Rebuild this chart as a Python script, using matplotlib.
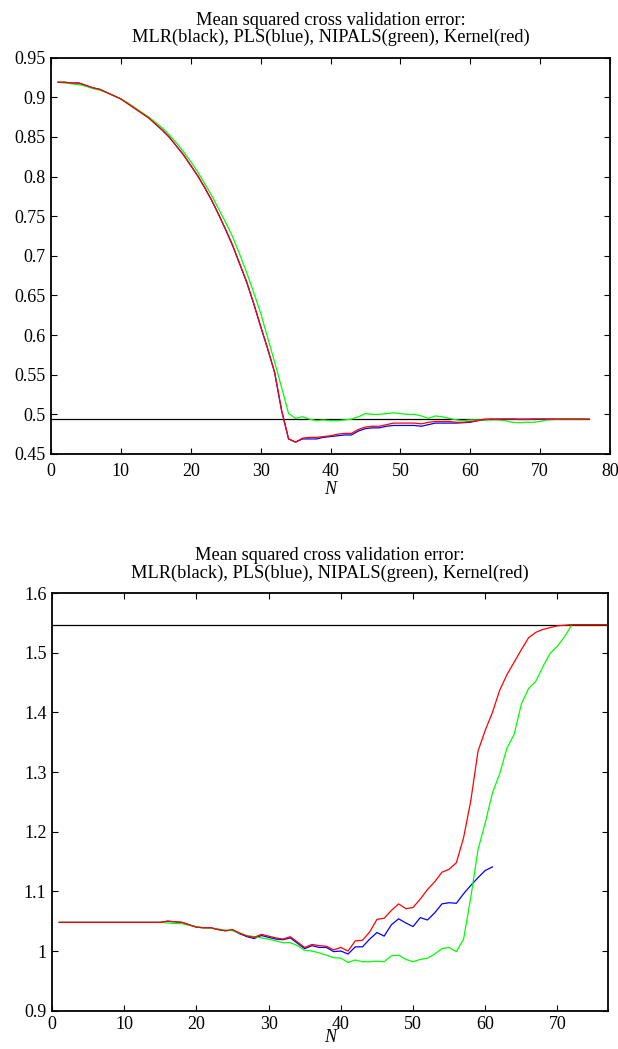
import numpy as np
import matplotlib
matplotlib.use("Agg")
import matplotlib.pyplot as plt
from matplotlib.ticker import FuncFormatter

plt.rcParams['font.family'] = ['Liberation Serif', 'DejaVu Serif']

# ---------------- data: first experiment ----------------
n_top = list(range(1, 78))
mlr_top = 0.494
kernel_top = [
    0.919, 0.919, 0.918, 0.918, 0.915, 0.912, 0.910, 0.906, 0.902, 0.898,
    0.892, 0.886, 0.880, 0.874, 0.866, 0.858, 0.849, 0.838, 0.827, 0.814,
    0.801, 0.786, 0.770, 0.752, 0.733, 0.713, 0.690, 0.667, 0.640, 0.611,
    0.583, 0.553, 0.505, 0.469, 0.465, 0.470, 0.471, 0.471, 0.472, 0.473,
    0.475, 0.476, 0.476, 0.481, 0.484, 0.485, 0.485, 0.487, 0.489, 0.489,
    0.489, 0.489, 0.488, 0.490, 0.491, 0.491, 0.491, 0.490, 0.490, 0.491,
    0.492, 0.494, 0.494, 0.494, 0.494, 0.494, 0.4935, 0.4935, 0.494, 0.494,
    0.494, 0.494, 0.494, 0.494, 0.494, 0.494, 0.494]
pls_top = [
    0.919, 0.919, 0.918, 0.918, 0.915, 0.912, 0.910, 0.906, 0.902, 0.898,
    0.892, 0.886, 0.880, 0.874, 0.866, 0.858, 0.849, 0.838, 0.827, 0.814,
    0.801, 0.786, 0.770, 0.752, 0.733, 0.713, 0.690, 0.667, 0.640, 0.611,
    0.583, 0.553, 0.505, 0.469, 0.465, 0.469, 0.469, 0.469, 0.471, 0.472,
    0.473, 0.474, 0.474, 0.479, 0.482, 0.483, 0.483, 0.485, 0.486, 0.486,
    0.486, 0.486, 0.485, 0.487, 0.489, 0.489, 0.489, 0.489, 0.4895, 0.490,
    0.492, 0.493, 0.494, 0.494, 0.494, 0.494, 0.494, 0.494, 0.494, 0.494,
    0.494, 0.494, 0.494, 0.494, 0.494, 0.494, 0.494]
nipals_top = [
    0.919, 0.918, 0.917, 0.916, 0.914, 0.911, 0.909, 0.906, 0.902, 0.898,
    0.893, 0.887, 0.881, 0.875, 0.868, 0.861, 0.852, 0.842, 0.831, 0.819,
    0.806, 0.791, 0.776, 0.759, 0.742, 0.724, 0.702, 0.679, 0.654, 0.628,
    0.597, 0.566, 0.534, 0.501, 0.495, 0.497, 0.494, 0.492, 0.493, 0.492,
    0.492, 0.493, 0.494, 0.497, 0.501, 0.500, 0.500, 0.501, 0.502, 0.501,
    0.500, 0.500, 0.498, 0.495, 0.498, 0.497, 0.495, 0.493, 0.492, 0.493,
    0.493, 0.493, 0.493, 0.493, 0.492, 0.490, 0.4895, 0.490, 0.490, 0.491,
    0.493, 0.4935, 0.494, 0.494, 0.494, 0.494, 0.494]

# ---------------- data: second experiment ----------------
n_bot = list(range(1, 78))
n_bot_pls = list(range(1, 62))
mlr_bot = 1.547
kernel_bot = [
    1.048, 1.048, 1.048, 1.048, 1.048, 1.048, 1.048, 1.048, 1.048, 1.048,
    1.048, 1.048, 1.048, 1.048, 1.048, 1.050, 1.049, 1.048, 1.044, 1.040,
    1.039, 1.039, 1.036, 1.034, 1.036, 1.030, 1.025, 1.023, 1.028, 1.025,
    1.022, 1.020, 1.024, 1.015, 1.006, 1.011, 1.009, 1.008, 1.002, 1.006,
    1.000, 1.017, 1.018, 1.032, 1.053, 1.055, 1.068, 1.079, 1.071, 1.073,
    1.087, 1.103, 1.116, 1.132, 1.137, 1.148, 1.190, 1.252, 1.335, 1.370,
    1.400, 1.437, 1.463, 1.484, 1.505, 1.525, 1.534, 1.539, 1.542, 1.545,
    1.546, 1.547, 1.547, 1.547, 1.547, 1.547, 1.547]
pls_bot = [
    1.048, 1.048, 1.048, 1.048, 1.048, 1.048, 1.048, 1.048, 1.048, 1.048,
    1.048, 1.048, 1.048, 1.048, 1.048, 1.050, 1.049, 1.048, 1.044, 1.040,
    1.039, 1.039, 1.036, 1.034, 1.035, 1.029, 1.024, 1.021, 1.026, 1.023,
    1.020, 1.019, 1.022, 1.013, 1.004, 1.009, 1.006, 1.006, 0.999, 1.000,
    0.995, 1.007, 1.007, 1.020, 1.031, 1.025, 1.044, 1.054, 1.047, 1.041,
    1.056, 1.052, 1.064, 1.079, 1.081, 1.080, 1.096, 1.110, 1.123, 1.135,
    1.141]
nipals_bot = [
    1.048, 1.048, 1.048, 1.048, 1.048, 1.048, 1.048, 1.048, 1.048, 1.048,
    1.048, 1.048, 1.048, 1.048, 1.048, 1.047, 1.046, 1.046, 1.043, 1.041,
    1.039, 1.038, 1.037, 1.035, 1.034, 1.030, 1.026, 1.024, 1.022, 1.020,
    1.017, 1.014, 1.014, 1.009, 1.001, 1.000, 0.997, 0.993, 0.989, 0.988,
    0.981, 0.985, 0.982, 0.982, 0.983, 0.982, 0.992, 0.993, 0.986, 0.982,
    0.986, 0.988, 0.995, 1.004, 1.006, 0.999, 1.020, 1.090, 1.170, 1.215,
    1.265, 1.297, 1.340, 1.363, 1.414, 1.440, 1.452, 1.477, 1.499, 1.511,
    1.527, 1.547, 1.547, 1.547, 1.547, 1.547, 1.547]

title = ("Mean squared cross validation error:\n"
         "MLR(black), PLS(blue), NIPALS(green), Kernel(red)")

W, H = 618, 1049
fig = plt.figure(figsize=(W / 100, H / 100), dpi=100)


def box(l, t, r, b):
    return [l / W, 1 - b / H, (r - l) / W, (b - t) / H]


ax1 = fig.add_axes(box(51, 57.7, 610, 454))
ax2 = fig.add_axes(box(52, 593, 608, 1010.7))

lw = 0.9
fmt = FuncFormatter(lambda v, p: f"{v:g}")


def style(ax, xpad):
    for s in ax.spines.values():
        s.set_linewidth(1.3)
    ax.tick_params(direction='in', top=True, right=True, length=4,
                   width=0.8, labelsize=13)
    ax.tick_params(axis='x', pad=xpad)
    ax.tick_params(axis='y', pad=4)
    ax.yaxis.set_major_formatter(fmt)
    ax.xaxis.set_major_formatter(fmt)
    ax.set_title(title, fontsize=13.2, pad=11, linespacing=1.05)
    ax.set_xlabel("N", fontsize=13, style='italic', labelpad=1)


# first experiment
ax1.plot([0, 77], [mlr_top, mlr_top], color='black', lw=lw)
ax1.plot(n_top, pls_top, color='#0000ff', lw=lw)
ax1.plot(n_top, nipals_top, color='#00ff00', lw=lw)
ax1.plot(n_top, kernel_top, color='#ff0000', lw=lw)
ax1.set_xlim(0, 80)
ax1.set_ylim(0.45, 0.95)
ax1.set_xticks(np.arange(0, 81, 10))
ax1.set_yticks(np.arange(0.45, 0.951, 0.05))
style(ax1, 6.5)

# second experiment
ax2.plot([0, 77], [mlr_bot, mlr_bot], color='black', lw=lw)
ax2.plot(n_bot_pls, pls_bot, color='#0000ff', lw=lw)
ax2.plot(n_bot, nipals_bot, color='#00ff00', lw=lw)
ax2.plot(n_bot, kernel_bot, color='#ff0000', lw=lw)
ax2.set_xlim(0, 77)
ax2.set_ylim(0.9, 1.6)
ax2.set_xticks(np.arange(0, 71, 10))
ax2.set_yticks(np.arange(0.9, 1.61, 0.1))
style(ax2, 4)
# keep the lower axis label inside the figure
ax2.xaxis.set_label_coords(0.5, -0.045)

fig.savefig("out.png", dpi=100)
